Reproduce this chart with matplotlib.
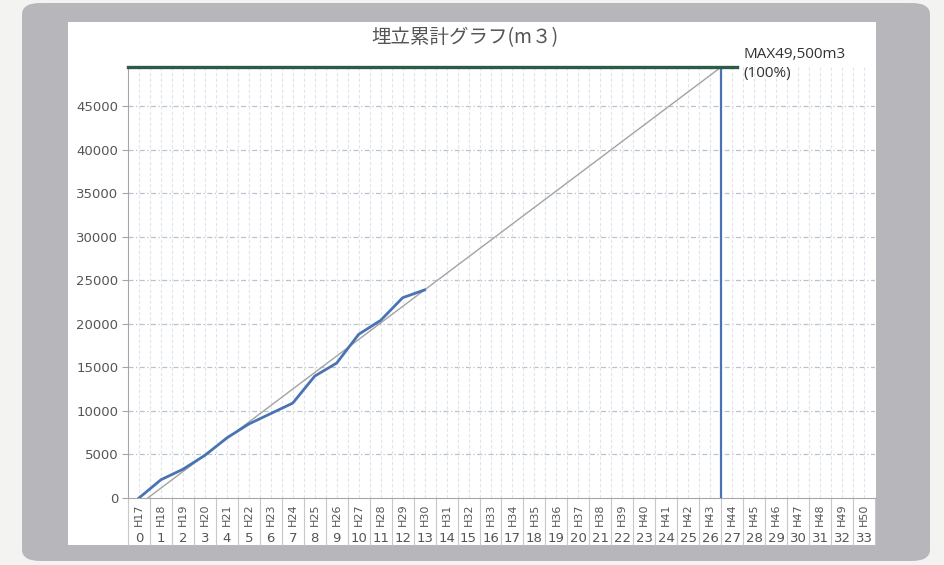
import matplotlib
matplotlib.use("Agg")
import matplotlib.pyplot as plt
from matplotlib.patches import FancyBboxPatch, Rectangle
import numpy as np

plt.rcParams['font.family'] = ['DejaVu Sans', 'Noto Sans CJK JP']

# ---------------- data ----------------
title = "埋立累計グラフ(m３)"
year_labels = ["H17", "H18", "H19", "H20", "H21", "H22", "H23", "H24", "H25", "H26",
               "H27", "H28", "H29", "H30", "H31", "H32", "H33", "H34", "H35", "H36",
               "H37", "H38", "H39", "H40", "H41", "H42", "H43", "H44", "H45", "H46",
               "H47", "H48", "H49", "H50"]
index_labels = ["0", "1", "2", "3", "4", "5", "6", "7", "8", "9", "10", "11", "12",
                "13", "14", "15", "16", "17", "18", "19", "20", "21", "22", "23",
                "24", "25", "26", "27", "28", "29", "30", "31", "32", "33"]
actual_values = [0, 2100, 3300, 4900, 6900, 8500, 9700, 10900, 14000, 15500,
                 18800, 20400, 23000, 23900]
plan_x = [0.4, 26.5]
plan_y = [0, 49500]
max_value = 49500
max_position = 26.5
max_label = "MAX49,500m3\n(100%)"
y_ticks = [0, 5000, 10000, 15000, 20000, 25000, 30000, 35000, 40000, 45000]

W, H = 945, 565
fig = plt.figure(figsize=(W / 100, H / 100), dpi=100)
fig.patch.set_facecolor("#f3f3f1")

def fx(px):
    return px / W

def fy(py):
    return 1 - py / H

# frame
frame = FancyBboxPatch((fx(22), fy(561)), fx(930) - fx(22), fy(3) - fy(561),
                       boxstyle="round,pad=0,rounding_size=0.02",
                       transform=fig.transFigure, facecolor="#b6b6bb",
                       edgecolor="none", zorder=0)
fig.patches.append(frame)
inner = Rectangle((fx(68), fy(545)), fx(876) - fx(68), fy(22) - fy(545),
                  transform=fig.transFigure, facecolor="white", edgecolor="none",
                  zorder=1)
fig.patches.append(inner)

ax = fig.add_axes([fx(128), fy(498), fx(875) - fx(128), fy(67) - fy(498)])
ax.set_facecolor("none")
ax.set_zorder(2)

n = len(year_labels)
x_actual = np.arange(len(actual_values))
ax.set_xlim(-0.5, n - 0.5)
ax.set_ylim(0, max_value)

# grid
for yv in y_ticks[1:]:
    ax.axhline(yv, color="#b9c3cf", lw=0.9, ls=(0, (4, 2, 1, 2)), zorder=1)
for xv in np.arange(-0.5, n, 0.5)[1:]:
    ax.axvline(xv, color="#e0e5ec", lw=0.8, ls=(0, (3, 2)), zorder=1)

# lines
ax.plot(plan_x, plan_y, color="#a3a3a3", lw=1.0, zorder=3)
ax.plot(x_actual, actual_values, color="#4a73b3", lw=2.0, zorder=4,
        solid_joinstyle="round")
ax.plot([max_position, max_position], [0, max_value], color="#4a73b3", lw=1.6,
        zorder=4)
ax.plot([-0.5, max_position + 0.7], [max_value, max_value], color="#2e5a48",
        lw=2.4, zorder=5, clip_on=False)

ax.annotate(max_label, xy=(max_position, max_value), xytext=(22, 3),
            textcoords="offset pixels", ha="left", va="center",
            fontsize=11, family=["Open Sans", "DejaVu Sans"], color="#333333",
            linespacing=1.3, annotation_clip=False)

# axes styling
for side in ["top", "right"]:
    ax.spines[side].set_visible(False)
ax.spines["left"].set_color("#a6a6a6")
ax.spines["bottom"].set_color("#a6a6a6")
ax.set_yticks(y_ticks)
ax.set_yticklabels([str(v) for v in y_ticks])
ax.tick_params(axis="y", colors="#a6a6a6", labelcolor="#555555", labelsize=9.5,
               length=4, width=0.8, pad=3)
ax.set_xticks([])

# category table below axis
trans = ax.get_xaxis_transform()
ax_h = 498 - 67
for i, (lab, idx) in enumerate(zip(year_labels, index_labels)):
    ax.text(i, -(515 - 498) / ax_h, lab, transform=trans, rotation=90,
            ha="center", va="center", fontsize=8, color="#555555")
    ax.text(i, -(538 - 498) / ax_h, idx, transform=trans, ha="center",
            va="center", fontsize=9.5, color="#555555")
for b in np.arange(-0.5, n, 1.0):
    ax.plot([b, b], [0, -(545 - 498) / ax_h], transform=trans, color="#c8c8c8",
            lw=0.8, clip_on=False)

fig.text(fx(465), fy(38), title, ha="center", va="center", fontsize=14,
         color="#555555", family=["Noto Sans CJK JP", "DejaVu Sans"])

fig.savefig("out.png", dpi=100, facecolor=fig.get_facecolor())
